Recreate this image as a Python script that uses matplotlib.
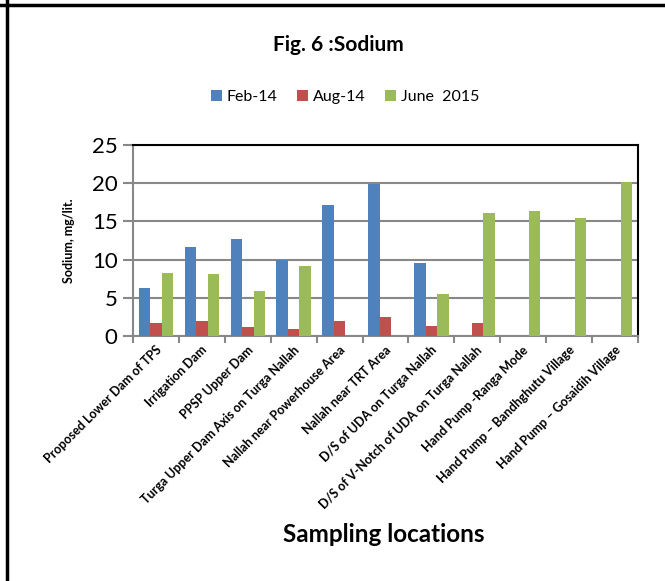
import matplotlib.pyplot as plt
import numpy as np
from matplotlib.lines import Line2D

plt.rcParams["font.family"] = ["Lato", "DejaVu Sans"]

locations = [
    "Proposed Lower Dam of TPS",
    "Irrigation Dam",
    "PPSP Upper Dam",
    "Turga Upper Dam Axis on Turga Nallah",
    "Nallah near Powerhouse Area",
    "Nallah near TRT Area",
    "D/S of UDA on Turga Nallah",
    "D/S of V-Notch of UDA on Turga Nallah",
    "Hand Pump -Ranga Mode",
    "Hand Pump \u2013 Bandhghutu Village",
    "Hand Pump \u2013 Gosaidih Village",
]
feb_14 = [6.3, 11.7, 12.7, 9.9, 17.1, 19.9, 9.6, 0, 0, 0, 0]
aug_14 = [1.7, 1.9, 1.2, 0.9, 1.9, 2.5, 1.3, 1.7, 0, 0, 0]
june_2015 = [8.25, 8.1, 5.9, 9.1, 0, 0, 5.5, 16.1, 16.4, 15.5, 20.1]
series_names = ["Feb-14", "Aug-14", "June  2015"]
colors = ["#4F81BD", "#C0504D", "#9BBB59"]

W, H = 665, 581
fig = plt.figure(figsize=(W / 100, H / 100), dpi=100)
ax = fig.add_axes([133 / W, 1 - 336 / H, (638 - 133) / W, (336 - 145) / H])

x = np.arange(len(locations))
width = 0.25
for i, (vals, name, col) in enumerate(zip([feb_14, aug_14, june_2015], series_names, colors)):
    ax.bar(x + (i - 1) * width, vals, width, color=col, label=name, zorder=3)

ax.set_xlim(-0.5, len(locations) - 0.5)
ax.set_ylim(0, 25)
ax.set_yticks(range(0, 26, 5))
ax.tick_params(axis="y", labelsize=16, length=7, color="#888888", width=1.5, pad=4)
ax.yaxis.grid(True, color="#888888", linewidth=1.5, zorder=0)

ax.set_xticks(np.arange(-0.5, len(locations), 1))
ax.set_xticklabels([])
ax.tick_params(axis="x", length=5, color="#888888", width=1.5)
for xi, lab in zip(x, locations):
    ax.text(xi - 0.02, -1.0, lab, rotation=45, ha="right", va="top",
            rotation_mode="anchor", fontsize=9, fontweight="bold")

for side in ["left", "bottom"]:
    ax.spines[side].set_color("#888888")
    ax.spines[side].set_linewidth(1.5)
for side in ["top", "right"]:
    ax.spines[side].set_color("black")
    ax.spines[side].set_linewidth(1.5)

ax.set_ylabel("Sodium, mg/lit.", fontsize=9, fontweight="bold", labelpad=12)

fig.text(338 / W, 1 - 45 / H, "Fig. 6 :Sodium", ha="center", va="center",
         fontsize=15, fontweight="bold")
fig.legend(loc="center", bbox_to_anchor=(345 / W, 1 - 97 / H), ncol=3, frameon=False,
           fontsize=11.5, handlelength=0.7, handleheight=0.7, handletextpad=0.3,
           columnspacing=1.2)
fig.text(384 / W, 1 - 534 / H, "Sampling locations", ha="center", va="center",
         fontsize=17.5, fontweight="bold")

fig.add_artist(Line2D([7 / W, 7 / W], [0, 1], color="black", linewidth=2.5))
fig.add_artist(Line2D([0, 1], [1 - 5 / H, 1 - 5 / H], color="black", linewidth=2.5))

fig.savefig("out.png", dpi=100)
